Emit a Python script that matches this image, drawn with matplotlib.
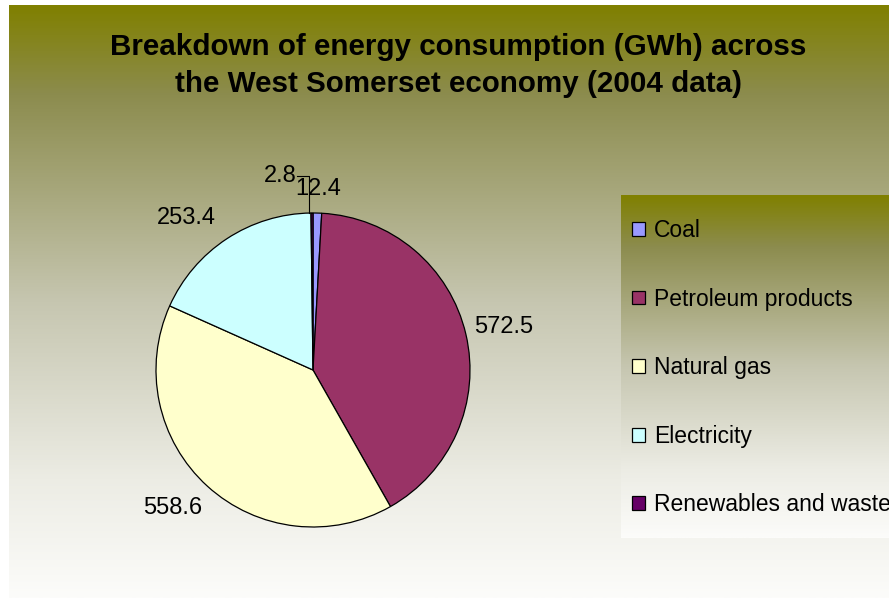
from __future__ import annotations

import matplotlib

matplotlib.use("Agg")
import matplotlib.pyplot as plt
import numpy as np
from matplotlib.patches import Patch

# data (GWh, 2004)
categories = ["Coal", "Petroleum products", "Natural gas", "Electricity", "Renewables and waste"]
values = [12.4, 572.5, 558.6, 253.4, 2.8]
value_labels = ["12.4", "572.5", "558.6", "253.4", "2.8"]
colors = ["#9999FF", "#993366", "#FFFFCC", "#CCFFFF", "#660066"]

title = "Breakdown of energy consumption (GWh) across\nthe West Somerset economy (2004 data)"

W, H = 889, 598


def gradient_image(n: int = 256) -> np.ndarray:
    # olive at the top fading (greyish) to near-white at the bottom
    t = np.linspace(0.0, 1.0, n)
    stops = [0.0, 0.15, 0.5, 0.8, 1.0]
    r = np.interp(t, stops, [128, 140, 198, 236, 252])
    g = np.interp(t, stops, [128, 140, 198, 236, 252])
    b = np.interp(t, stops, [0, 78, 176, 228, 250])
    img = np.stack([r, g, b], axis=1) / 255.0
    return img[:, None, :]


def main() -> None:
    plt.rcParams["font.family"] = ["Liberation Sans", "DejaVu Sans"]

    fig = plt.figure(figsize=(W / 100, H / 100), dpi=100, facecolor="white")

    # chart area background
    bg = fig.add_axes([9 / W, 0, (W - 9) / W, 593 / H])
    bg.imshow(gradient_image(), aspect="auto", extent=[0, 1, 0, 1])
    bg.set_axis_off()

    fig.text(458.5 / W, 1 - 65.5 / H, title, ha="center", va="center",
             fontsize=21.3, fontweight="bold", linespacing=1.43)

    # pie, centred at (313, 370) px, radius 157 px
    cx, cy, rad = 313, 370, 157
    ax = fig.add_axes([(cx - rad) / W, (H - cy - rad) / H, 2 * rad / W, 2 * rad / H])
    wedges, texts = ax.pie(
        values,
        labels=value_labels,
        colors=colors,
        startangle=90,
        counterclock=False,
        labeldistance=1.1,
        wedgeprops=dict(edgecolor="black", linewidth=0.9),
        textprops=dict(fontsize=17, color="black"),
    )
    ax.set_xlim(-1, 1)
    ax.set_ylim(-1, 1)

    # label placement as in the original chart
    texts[0].set_position((0.03, 1.155))
    texts[0].set_ha("center")
    texts[1].set_position((1.025, 0.274))
    texts[2].set_position((-0.707, -0.879))
    texts[3].set_position((-0.618, 0.965))
    texts[4].set_position((-0.21, 1.237))
    texts[4].set_ha("center")
    w = wedges[4]
    mid = np.deg2rad((w.theta1 + w.theta2) / 2)
    ex, ey = np.cos(mid) - 0.02, np.sin(mid)
    ax.plot([-0.105, ex, ex], [1.237, 1.237, ey], color="black", lw=0.8, clip_on=False)

    # legend box with its own gradient
    lx0, ly0, ly1 = 621, 195, 538
    lax = fig.add_axes([lx0 / W, (H - ly1) / H, (W - lx0) / W, (ly1 - ly0) / H])
    lax.imshow(gradient_image(), aspect="auto", extent=[0, 1, 0, 1])
    lax.set_axis_off()
    handles = [Patch(facecolor=c, edgecolor="black", linewidth=0.9) for c in colors]
    lax.legend(
        handles,
        categories,
        loc="upper left",
        bbox_to_anchor=(11 / (W - lx0), 1 - 24 / (ly1 - ly0)),
        borderaxespad=0,
        borderpad=0,
        frameon=False,
        fontsize=16.5,
        handlelength=0.55,
        handleheight=0.55,
        handletextpad=0.4,
        labelspacing=1.99,
    )

    fig.savefig("out.png", dpi=100)
    plt.close(fig)


if __name__ == "__main__":
    main()
